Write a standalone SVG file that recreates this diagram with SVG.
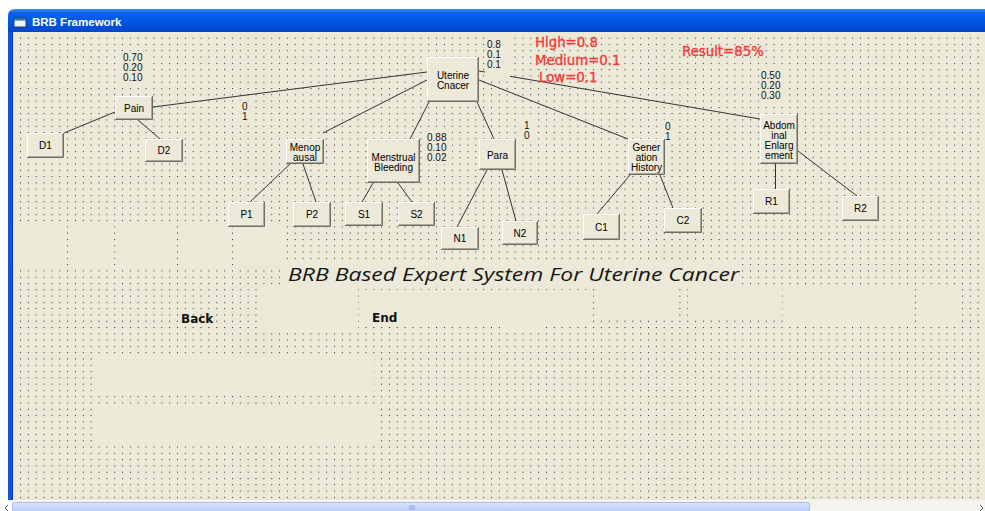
<svg xmlns="http://www.w3.org/2000/svg" width="985" height="511" viewBox="0 0 985 511">
  <defs>
    <linearGradient id="caption" x1="0" y1="0" x2="0" y2="1">
      <stop offset="0" stop-color="#3D8DF5"/>
      <stop offset="0.18" stop-color="#0A62E8"/>
      <stop offset="0.6" stop-color="#0055E5"/>
      <stop offset="1" stop-color="#0346C8"/>
    </linearGradient>
    <linearGradient id="hscroll" x1="0" y1="0" x2="0" y2="1">
      <stop offset="0" stop-color="#DCE6FC"/>
      <stop offset="1" stop-color="#B9CCF7"/>
    </linearGradient>
    <!-- design-time form grid -->
    <pattern id="grid" x="20" y="37.7" width="7.85" height="6.29" patternUnits="userSpaceOnUse">
      <rect width="1" height="1" fill="#2a2a2a"/>
    </pattern>
    <style>
      .form{fill:#ECE9D8}
      .blank{fill:#ECE9D8}
      .face{fill:#ECE9D8}
      .hl{fill:none;stroke:#FFFFFF;stroke-width:1}
      .sd{fill:none;stroke:#716F64;stroke-width:1}
      .sd2{fill:none;stroke:#ACA899;stroke-width:1}
      .bt{font-family:"Liberation Sans",Arial,sans-serif;font-size:10px;fill:#000;text-anchor:middle}
      .num{font-family:"Liberation Sans",Arial,sans-serif;font-size:10px;fill:#111}
      .red{font-family:"DejaVu Sans",Verdana,sans-serif;font-size:13.3px;fill:#F23B3B;stroke:#F23B3B;stroke-width:0.35}
      .link{fill:none;stroke:#333;stroke-width:1}
      .cmd{font-family:"DejaVu Sans",Verdana,sans-serif;font-size:12px;font-weight:bold;fill:#111}
    </style>
  </defs>

  <!-- window frame -->
  <rect x="0" y="0" width="985" height="511" fill="#FFFFFF"/>
  <path d="M8,32 V16 Q8,9 15,9 H985 V32 Z" fill="url(#caption)"/>
  <rect x="14" y="18" width="12" height="9" fill="#E8F4F8" stroke="#1F3A5A" stroke-width="1"/>
  <rect x="14" y="18" width="12" height="2.5" fill="#2F6FA0"/>
  <text x="32" y="26" font-family="'Liberation Sans',Arial,sans-serif" font-size="11.5" font-weight="bold" fill="#FFFFFF">BRB Framework</text>
  <rect x="8" y="32" width="5" height="468" fill="#1252DE"/>
  <rect x="12" y="32" width="1" height="468" fill="#0A3FB8"/>

  <!-- form client area with grid -->
  <rect class="form" x="13" y="32" width="972" height="468"/>
  <rect x="13" y="33" width="972" height="466" fill="url(#grid)"/>

  <!-- invisible controls hiding the grid -->
  <g id="hidden-controls">
    <rect class="blank" x="13" y="226" width="53" height="42"/>
    <rect class="blank" x="68.5" y="226" width="45" height="42"/>
    <rect class="blank" x="115.5" y="226" width="60.5" height="42"/>
    <rect class="blank" x="178.5" y="226" width="53" height="42"/>
    <rect class="blank" x="233.5" y="226" width="48" height="42"/>
    <rect class="blank" x="282" y="262" width="460" height="24"/>
    <rect class="blank" x="257" y="284" width="101" height="45"/>
    <rect class="blank" x="362" y="290" width="138" height="37"/>
    <rect class="blank" x="500" y="290" width="88" height="37"/>
    <rect class="blank" x="500" y="327" width="43" height="6"/>
    <rect class="blank" x="600" y="287" width="77" height="33"/>
    <rect class="blank" x="688" y="287" width="94" height="33"/>
    <rect class="blank" x="786" y="287" width="46" height="35"/>
    <rect class="blank" x="836" y="287" width="78" height="35"/>
    <rect class="blank" x="918" y="287" width="41" height="35"/>
    <rect class="blank" x="97" y="358" width="277" height="36"/>
    <rect class="blank" x="97" y="406" width="284" height="37"/>
  </g>

  <!-- connectors -->
  <g id="connectors">
    <line class="link" x1="427" y1="72" x2="153" y2="107"/>
    <line class="link" x1="427" y1="80" x2="323" y2="133"/>
    <line class="link" x1="429" y1="102" x2="410" y2="139"/>
    <line class="link" x1="477" y1="102" x2="494" y2="139"/>
    <line class="link" x1="479" y1="80" x2="628" y2="139"/>
    <line class="link" x1="479" y1="71" x2="760" y2="119"/>
    <line class="link" x1="115" y1="112" x2="64" y2="133"/>
    <line class="link" x1="138" y1="120" x2="160" y2="139"/>
    <line class="link" x1="290" y1="164" x2="250" y2="202"/>
    <line class="link" x1="303" y1="164" x2="316" y2="202"/>
    <line class="link" x1="373" y1="183" x2="362" y2="202"/>
    <line class="link" x1="398" y1="183" x2="412" y2="202"/>
    <line class="link" x1="487" y1="170" x2="457" y2="227"/>
    <line class="link" x1="502" y1="170" x2="516" y2="221"/>
    <line class="link" x1="630" y1="175" x2="597" y2="214"/>
    <line class="link" x1="660" y1="175" x2="673" y2="208"/>
    <line class="link" x1="775.5" y1="164" x2="775.5" y2="189"/>
    <line class="link" x1="798" y1="151" x2="857" y2="196"/>
  </g>

  <!-- belief degree labels (opaque) -->
  <g id="labels">
    <rect class="blank" x="121" y="51" width="27" height="33"/>
    <text class="num" x="123" y="61">0.70</text>
    <text class="num" x="123" y="71">0.20</text>
    <text class="num" x="123" y="81">0.10</text>

    <rect class="blank" x="239" y="101" width="12" height="22"/>
    <text class="num" x="242" y="110">0</text>
    <text class="num" x="242" y="120">1</text>

    <rect class="blank" x="485" y="37" width="25" height="41"/>
    <text class="num" x="487" y="48">0.8</text>
    <text class="num" x="487" y="58">0.1</text>
    <text class="num" x="487" y="68">0.1</text>

    <rect class="blank" x="425" y="131" width="27" height="33"/>
    <text class="num" x="427" y="141">0.88</text>
    <text class="num" x="427" y="151">0.10</text>
    <text class="num" x="427" y="161">0.02</text>

    <rect class="blank" x="521" y="119" width="12" height="23"/>
    <text class="num" x="524" y="129">1</text>
    <text class="num" x="524" y="139">0</text>

    <rect class="blank" x="662" y="120" width="12" height="23"/>
    <text class="num" x="665" y="130">0</text>
    <text class="num" x="665" y="140">1</text>

    <rect class="blank" x="759" y="69" width="27" height="33"/>
    <text class="num" x="761" y="79">0.50</text>
    <text class="num" x="761" y="89">0.20</text>
    <text class="num" x="761" y="99">0.30</text>

    <text class="red" x="535" y="47">High=0.8</text>
    <text class="red" x="535" y="65">Medium=0.1</text>
    <text class="red" x="539" y="82">Low=0.1</text>
    <text class="red" x="682" y="56">Result=85%</text>
  </g>

  <!-- nodes -->
  <g id="n-uterine">
    <rect class="face" x="427" y="57" width="52" height="45"/>
    <path class="hl" d="M427.5,101 V57.5 H478"/>
    <path class="sd" d="M427,101.5 H478.5 V57"/>
    <path class="sd2" d="M428,100.5 H477.5 V58"/>
    <text class="bt" x="453" y="78.5">Uterine</text>
    <text class="bt" x="453" y="88.5">Cnacer</text>
  </g>
  <g id="n-pain">
    <rect class="face" x="115" y="96" width="38" height="24"/>
    <path class="hl" d="M115.5,119 V96.5 H152"/>
    <path class="sd" d="M115,119.5 H152.5 V96"/>
    <path class="sd2" d="M116,118.5 H151.5 V97"/>
    <text class="bt" x="134" y="111.5">Pain</text>
  </g>
  <g id="n-d1">
    <rect class="face" x="27" y="133" width="37" height="25"/>
    <path class="hl" d="M27.5,157 V133.5 H63"/>
    <path class="sd" d="M27,157.5 H63.5 V133"/>
    <path class="sd2" d="M28,156.5 H62.5 V134"/>
    <text class="bt" x="45.5" y="149">D1</text>
  </g>
  <g id="n-d2">
    <rect class="face" x="145" y="139" width="38" height="23"/>
    <path class="hl" d="M145.5,161 V139.5 H182"/>
    <path class="sd" d="M145,161.5 H182.5 V139"/>
    <path class="sd2" d="M146,160.5 H181.5 V140"/>
    <text class="bt" x="164" y="154">D2</text>
  </g>
  <g id="n-menopausal">
    <rect class="face" x="286" y="139" width="38" height="25"/>
    <path class="hl" d="M286.5,163 V139.5 H323"/>
    <path class="sd" d="M286,163.5 H323.5 V139"/>
    <path class="sd2" d="M287,162.5 H322.5 V140"/>
    <text class="bt" x="305" y="150.5">Menop</text>
    <text class="bt" x="305" y="160.5">ausal</text>
  </g>
  <g id="n-menstrual">
    <rect class="face" x="367" y="139" width="53" height="44"/>
    <path class="hl" d="M367.5,182 V139.5 H419"/>
    <path class="sd" d="M367,182.5 H419.5 V139"/>
    <path class="sd2" d="M368,181.5 H418.5 V140"/>
    <text class="bt" x="393.5" y="160.5">Menstrual</text>
    <text class="bt" x="393.5" y="170.5">Bleeding</text>
  </g>
  <g id="n-para">
    <rect class="face" x="479" y="139" width="37" height="31"/>
    <path class="hl" d="M479.5,169 V139.5 H515"/>
    <path class="sd" d="M479,169.5 H515.5 V139"/>
    <path class="sd2" d="M480,168.5 H514.5 V140"/>
    <text class="bt" x="497.5" y="158.5">Para</text>
  </g>
  <g id="n-generation">
    <rect class="face" x="628" y="139" width="37" height="36"/>
    <path class="hl" d="M628.5,174 V139.5 H664"/>
    <path class="sd" d="M628,174.5 H664.5 V139"/>
    <path class="sd2" d="M629,173.5 H663.5 V140"/>
    <text class="bt" x="646.5" y="150.5">Gener</text>
    <text class="bt" x="646.5" y="160.8">ation</text>
    <text class="bt" x="646.5" y="171">History</text>
  </g>
  <g id="n-abdominal">
    <rect class="face" x="760" y="114" width="38" height="50"/>
    <path class="hl" d="M760.5,163 V114.5 H797"/>
    <path class="sd" d="M760,163.5 H797.5 V114"/>
    <path class="sd2" d="M761,162.5 H796.5 V115"/>
    <text class="bt" x="779" y="128.5">Abdom</text>
    <text class="bt" x="779" y="138.5">inal</text>
    <text class="bt" x="779" y="148.5">Enlarg</text>
    <text class="bt" x="779" y="158.5">ement</text>
  </g>
  <g id="n-p1">
    <rect class="face" x="228" y="202" width="37" height="25"/>
    <path class="hl" d="M228.5,226 V202.5 H264"/>
    <path class="sd" d="M228,226.5 H264.5 V202"/>
    <path class="sd2" d="M229,225.5 H263.5 V203"/>
    <text class="bt" x="246.5" y="218">P1</text>
  </g>
  <g id="n-p2">
    <rect class="face" x="293" y="202" width="38" height="25"/>
    <path class="hl" d="M293.5,226 V202.5 H330"/>
    <path class="sd" d="M293,226.5 H330.5 V202"/>
    <path class="sd2" d="M294,225.5 H329.5 V203"/>
    <text class="bt" x="312" y="218">P2</text>
  </g>
  <g id="n-s1">
    <rect class="face" x="345" y="202" width="38" height="24"/>
    <path class="hl" d="M345.5,225 V202.5 H382"/>
    <path class="sd" d="M345,225.5 H382.5 V202"/>
    <path class="sd2" d="M346,224.5 H381.5 V203"/>
    <text class="bt" x="364" y="217.5">S1</text>
  </g>
  <g id="n-s2">
    <rect class="face" x="398" y="202" width="37" height="24"/>
    <path class="hl" d="M398.5,225 V202.5 H434"/>
    <path class="sd" d="M398,225.5 H434.5 V202"/>
    <path class="sd2" d="M399,224.5 H433.5 V203"/>
    <text class="bt" x="416.5" y="217.5">S2</text>
  </g>
  <g id="n-n1">
    <rect class="face" x="441" y="227" width="38" height="23"/>
    <path class="hl" d="M441.5,249 V227.5 H478"/>
    <path class="sd" d="M441,249.5 H478.5 V227"/>
    <path class="sd2" d="M442,248.5 H477.5 V228"/>
    <text class="bt" x="460" y="242">N1</text>
  </g>
  <g id="n-n2">
    <rect class="face" x="502" y="221" width="36" height="24"/>
    <path class="hl" d="M502.5,244 V221.5 H537"/>
    <path class="sd" d="M502,244.5 H537.5 V221"/>
    <path class="sd2" d="M503,243.5 H536.5 V222"/>
    <text class="bt" x="520" y="236.5">N2</text>
  </g>
  <g id="n-c1">
    <rect class="face" x="583" y="214" width="37" height="26"/>
    <path class="hl" d="M583.5,239 V214.5 H619"/>
    <path class="sd" d="M583,239.5 H619.5 V214"/>
    <path class="sd2" d="M584,238.5 H618.5 V215"/>
    <text class="bt" x="601.5" y="230.5">C1</text>
  </g>
  <g id="n-c2">
    <rect class="face" x="664" y="208" width="38" height="25"/>
    <path class="hl" d="M664.5,232 V208.5 H701"/>
    <path class="sd" d="M664,232.5 H701.5 V208"/>
    <path class="sd2" d="M665,231.5 H700.5 V209"/>
    <text class="bt" x="683" y="224">C2</text>
  </g>
  <g id="n-r1">
    <rect class="face" x="753" y="189" width="37" height="25"/>
    <path class="hl" d="M753.5,213 V189.5 H789"/>
    <path class="sd" d="M753,213.5 H789.5 V189"/>
    <path class="sd2" d="M754,212.5 H788.5 V190"/>
    <text class="bt" x="771.5" y="205">R1</text>
  </g>
  <g id="n-r2">
    <rect class="face" x="842" y="196" width="37" height="25"/>
    <path class="hl" d="M842.5,220 V196.5 H878"/>
    <path class="sd" d="M842,220.5 H878.5 V196"/>
    <path class="sd2" d="M843,219.5 H877.5 V197"/>
    <text class="bt" x="860.5" y="212">R2</text>
  </g>

  <!-- form caption and commands -->
  <text x="288" y="281" font-family="'Open Sans','DejaVu Sans',sans-serif" font-size="19" font-style="italic" fill="#151515" textLength="451" lengthAdjust="spacingAndGlyphs">BRB Based Expert System For Uterine Cancer</text>
  <text class="cmd" x="181" y="323">Back</text>
  <text class="cmd" x="372" y="322">End</text>

  <!-- horizontal scroll bar -->
  <rect x="13" y="500" width="972" height="11" fill="#F4F3EE"/>
  <rect x="12.5" y="502.5" width="797" height="9" rx="2" fill="url(#hscroll)" stroke="#A9BEEF"/>
  <path d="M410,505 V510 M412,505 V510 M414,505 V510" stroke="#8EA6DE" stroke-width="1"/>
  <path d="M8,505 L5,508 L8,511" fill="none" stroke="#4D6185" stroke-width="1"/>
  <path d="M980,505 L983,508 L980,511" fill="none" stroke="#4D6185" stroke-width="1"/>
</svg>
